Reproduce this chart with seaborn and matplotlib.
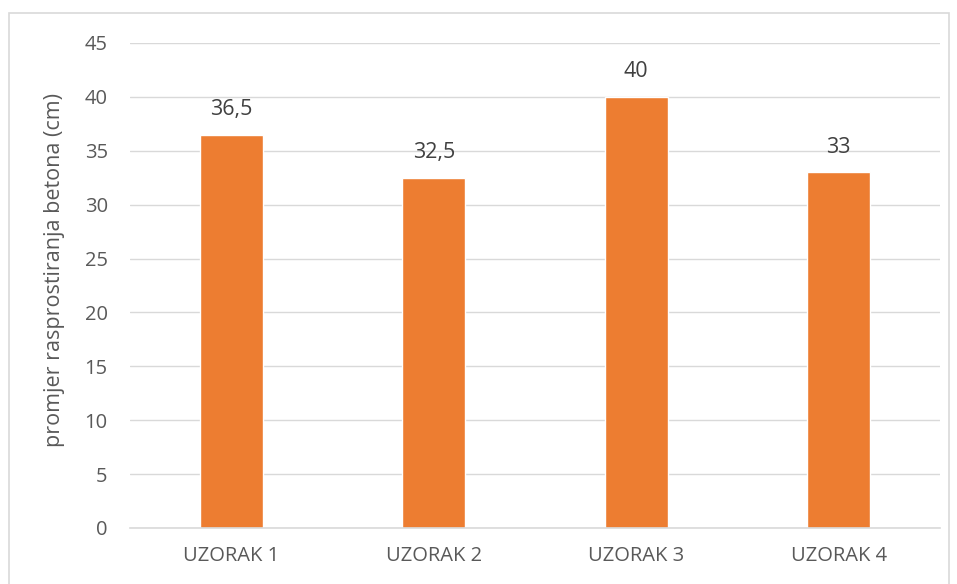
import matplotlib
matplotlib.use("Agg")
import matplotlib.pyplot as plt
import seaborn as sns
import pandas as pd
from matplotlib.patches import Rectangle

categories = ["UZORAK 1", "UZORAK 2", "UZORAK 3", "UZORAK 4"]
values = [36.5, 32.5, 40, 33]
value_labels = ["36,5", "32,5", "40", "33"]
y_label = "promjer rasprostiranja betona (cm)"

BAR = "#ED7D31"
GRID = "#D9D9D9"
TXT = "#595959"

sns.set_theme(style="white")
plt.rcParams["font.family"] = ["Open Sans", "DejaVu Sans"]

df = pd.DataFrame({"uzorak": categories, "promjer": values})

fig = plt.figure(figsize=(9.57, 5.84), dpi=100)
ax = fig.add_axes([0.1358, 0.0959, 0.8464, 0.8305])

sns.barplot(data=df, x="uzorak", y="promjer", color=BAR, width=0.31,
            saturation=1, ax=ax)

ax.set_ylim(0, 45)
ax.set_yticks(range(0, 46, 5))
ax.set_xlim(-0.5, 3.5)
ax.grid(axis="y", color=GRID, linewidth=1)
ax.set_axisbelow(True)
for s in ["top", "right", "left"]:
    ax.spines[s].set_visible(False)
ax.spines["bottom"].set_color(GRID)
ax.spines["bottom"].set_linewidth(1.2)

ax.tick_params(axis="both", length=0, labelsize=14.5, labelcolor=TXT)
ax.tick_params(axis="y", pad=16)
ax.tick_params(axis="x", pad=13)
ax.set_xlabel("")
ax.set_ylabel(y_label, fontsize=15.5, color=TXT, labelpad=14)
ax.yaxis.label.set_y(0.532)

for i, (v, lab) in enumerate(zip(values, value_labels)):
    ax.annotate(lab, (i, v), xytext=(0, 18), textcoords="offset points",
                ha="center", va="center", fontsize=15.5, color="#404040")

fig.patches.append(Rectangle((9 / 957, -0.01), 940 / 957, 1 - 13 / 584 + 0.01,
                             transform=fig.transFigure, fill=False,
                             edgecolor=GRID, linewidth=1.2))

fig.savefig("out.png", dpi=100, facecolor="white")
